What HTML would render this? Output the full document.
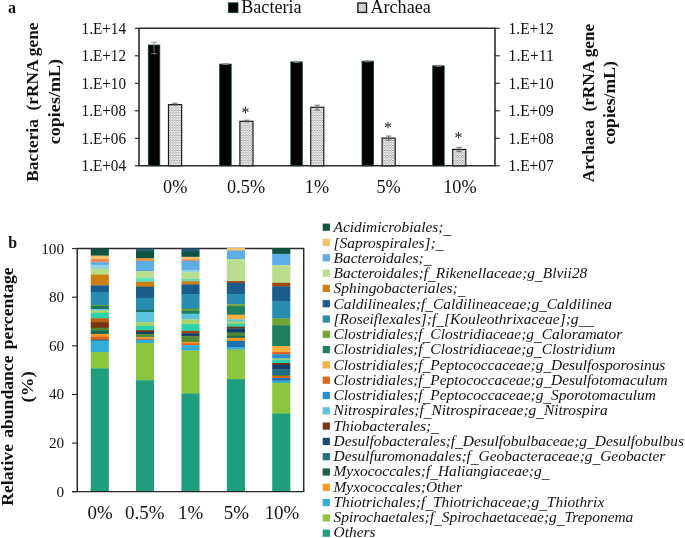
<!DOCTYPE html>
<html lang="en"><head><meta charset="utf-8"><title>Figure</title>
<style>html,body{margin:0;padding:0;background:#fff}svg{display:block;will-change:transform}text{font-family:"Liberation Serif","Times New Roman",serif;fill:#111}.b{font-weight:bold}.i{font-style:italic}</style></head><body>
<svg width="685" height="538" viewBox="0 0 685 538">
<defs><pattern id="dots" width="2.8" height="2.5" patternUnits="userSpaceOnUse"><rect width="2.8" height="2.5" fill="#fff"/><rect x="0.2" y="0.1" width="1.3" height="0.7" fill="#555"/><rect x="1.6" y="1.35" width="1.3" height="0.7" fill="#555"/><rect x="-1.2" y="1.35" width="1.3" height="0.7" fill="#555"/></pattern></defs>
<rect width="685" height="538" fill="#fff"/>
<text class="b" x="8" y="13" font-size="16">a</text>
<rect x="228.3" y="2.8" width="9.7" height="9.9" fill="#000" stroke="#0a4a38" stroke-width="0.8"/>
<text x="241.2" y="12.9" font-size="17.8" textLength="60.4" lengthAdjust="spacingAndGlyphs">Bacteria</text>
<rect x="357.9" y="3.1" width="8.6" height="9.3" fill="url(#dots)" stroke="#1a1a1a" stroke-width="1.4"/>
<text x="370.4" y="12.9" font-size="17.8" textLength="60.4" lengthAdjust="spacingAndGlyphs">Archaea</text>
<path d="M139.0 28.3H495.0V165.8H139.0Z" fill="none" stroke="#2c2c2c" stroke-width="1.6"/>
<path d="M134.8 28.3H139.0" stroke="#222" stroke-width="1.1"/>
<text x="126.0" y="33.5" font-size="15.8" text-anchor="end" textLength="44.4" lengthAdjust="spacingAndGlyphs">1.E+14</text>
<path d="M134.8 55.8H139.0" stroke="#222" stroke-width="1.1"/>
<text x="126.0" y="61.0" font-size="15.8" text-anchor="end" textLength="44.4" lengthAdjust="spacingAndGlyphs">1.E+12</text>
<path d="M134.8 83.3H139.0" stroke="#222" stroke-width="1.1"/>
<text x="126.0" y="88.5" font-size="15.8" text-anchor="end" textLength="44.4" lengthAdjust="spacingAndGlyphs">1.E+10</text>
<path d="M134.8 110.8H139.0" stroke="#222" stroke-width="1.1"/>
<text x="126.0" y="116.0" font-size="15.8" text-anchor="end" textLength="44.4" lengthAdjust="spacingAndGlyphs">1.E+08</text>
<path d="M134.8 138.3H139.0" stroke="#222" stroke-width="1.1"/>
<text x="126.0" y="143.5" font-size="15.8" text-anchor="end" textLength="44.4" lengthAdjust="spacingAndGlyphs">1.E+06</text>
<path d="M134.8 165.8H139.0" stroke="#222" stroke-width="1.1"/>
<text x="126.0" y="171.0" font-size="15.8" text-anchor="end" textLength="44.4" lengthAdjust="spacingAndGlyphs">1.E+04</text>
<path d="M495.0 28.3H499.8" stroke="#222" stroke-width="1.1"/>
<text x="508.6" y="33.5" font-size="15.8" textLength="45.2" lengthAdjust="spacingAndGlyphs">1.E+12</text>
<path d="M495.0 55.8H499.8" stroke="#222" stroke-width="1.1"/>
<text x="508.6" y="61.0" font-size="15.8" textLength="45.2" lengthAdjust="spacingAndGlyphs">1.E+11</text>
<path d="M495.0 83.3H499.8" stroke="#222" stroke-width="1.1"/>
<text x="508.6" y="88.5" font-size="15.8" textLength="45.2" lengthAdjust="spacingAndGlyphs">1.E+10</text>
<path d="M495.0 110.8H499.8" stroke="#222" stroke-width="1.1"/>
<text x="508.6" y="116.0" font-size="15.8" textLength="45.2" lengthAdjust="spacingAndGlyphs">1.E+09</text>
<path d="M495.0 138.3H499.8" stroke="#222" stroke-width="1.1"/>
<text x="508.6" y="143.5" font-size="15.8" textLength="45.2" lengthAdjust="spacingAndGlyphs">1.E+08</text>
<path d="M495.0 165.8H499.8" stroke="#222" stroke-width="1.1"/>
<text x="508.6" y="171.0" font-size="15.8" textLength="45.2" lengthAdjust="spacingAndGlyphs">1.E+07</text>
<rect x="148.3" y="45.0" width="11.5" height="120.8" fill="#000" stroke="#0b4a38" stroke-width="0.8"/>
<rect x="168.5" y="104.6" width="13.1" height="61.2" fill="url(#dots)" stroke="#1c1c1c" stroke-width="1.2"/>
<path d="M154.1 42.3V53.7M151.1 42.3h6M151.1 53.7h6" stroke="#8a8a8a" stroke-width="0.9" fill="none"/>
<path d="M175.0 103.2V105.0M172.2 103.2h5.6M172.2 105.0h5.6" stroke="#555" stroke-width="0.8" fill="none"/>
<rect x="219.7" y="64.1" width="11.5" height="101.7" fill="#000" stroke="#0b4a38" stroke-width="0.8"/>
<rect x="239.9" y="121.3" width="13.1" height="44.5" fill="url(#dots)" stroke="#1c1c1c" stroke-width="1.2"/>
<path d="M225.4 63.6V64.6M222.4 63.6h6M222.4 64.6h6" stroke="#8a8a8a" stroke-width="0.9" fill="none"/>
<path d="M246.4 120.2V121.8M243.6 120.2h5.6M243.6 121.8h5.6" stroke="#555" stroke-width="0.8" fill="none"/>
<text x="245.5" y="118.3" font-size="16" text-anchor="middle">*</text>
<rect x="290.8" y="61.9" width="11.5" height="103.9" fill="#000" stroke="#0b4a38" stroke-width="0.8"/>
<rect x="310.7" y="107.3" width="13.1" height="58.5" fill="url(#dots)" stroke="#1c1c1c" stroke-width="1.2"/>
<path d="M296.6 61.4V62.4M293.6 61.4h6M293.6 62.4h6" stroke="#8a8a8a" stroke-width="0.9" fill="none"/>
<path d="M317.2 105.2V110.0M314.4 105.2h5.6M314.4 110.0h5.6" stroke="#555" stroke-width="0.8" fill="none"/>
<rect x="362.0" y="61.2" width="11.5" height="104.6" fill="#000" stroke="#0b4a38" stroke-width="0.8"/>
<rect x="382.1" y="138.1" width="13.1" height="27.7" fill="url(#dots)" stroke="#1c1c1c" stroke-width="1.2"/>
<path d="M367.8 60.7V61.7M364.8 60.7h6M364.8 61.7h6" stroke="#8a8a8a" stroke-width="0.9" fill="none"/>
<path d="M388.6 136.0V140.2M385.8 136.0h5.6M385.8 140.2h5.6" stroke="#555" stroke-width="0.8" fill="none"/>
<text x="388.1" y="132.8" font-size="16" text-anchor="middle">*</text>
<rect x="432.7" y="65.8" width="11.5" height="100.0" fill="#000" stroke="#0b4a38" stroke-width="0.8"/>
<rect x="452.7" y="149.4" width="13.1" height="16.4" fill="url(#dots)" stroke="#1c1c1c" stroke-width="1.2"/>
<path d="M438.4 65.3V66.3M435.4 65.3h6M435.4 66.3h6" stroke="#8a8a8a" stroke-width="0.9" fill="none"/>
<path d="M459.2 147.3V151.6M456.4 147.3h5.6M456.4 151.6h5.6" stroke="#555" stroke-width="0.8" fill="none"/>
<text x="458.6" y="143.4" font-size="16" text-anchor="middle">*</text>
<text x="175.2" y="192.8" font-size="17.9" text-anchor="middle" textLength="24.3" lengthAdjust="spacingAndGlyphs">0%</text>
<text x="246.1" y="192.8" font-size="17.9" text-anchor="middle" textLength="38.0" lengthAdjust="spacingAndGlyphs">0.5%</text>
<text x="317.0" y="192.8" font-size="17.9" text-anchor="middle" textLength="24.3" lengthAdjust="spacingAndGlyphs">1%</text>
<text x="388.6" y="192.8" font-size="17.9" text-anchor="middle" textLength="24.3" lengthAdjust="spacingAndGlyphs">5%</text>
<text x="459.9" y="192.8" font-size="17.9" text-anchor="middle" textLength="33.4" lengthAdjust="spacingAndGlyphs">10%</text>
<text class="b" transform="translate(38.4 102.1) rotate(-90)" font-size="17.3" text-anchor="middle" textLength="159.2" lengthAdjust="spacingAndGlyphs" xml:space="preserve">Bacteria  (rRNA gene</text>
<text class="b" transform="translate(60.1 101.6) rotate(-90)" font-size="17.4" text-anchor="middle" textLength="85.4" lengthAdjust="spacingAndGlyphs">copies/mL)</text>
<text class="b" transform="translate(593.7 103) rotate(-90)" font-size="17.3" text-anchor="middle" textLength="158.6" lengthAdjust="spacingAndGlyphs" xml:space="preserve">Archaea  (rRNA gene</text>
<text class="b" transform="translate(615.4 102.9) rotate(-90)" font-size="17.4" text-anchor="middle" textLength="83.4" lengthAdjust="spacingAndGlyphs">copies/mL)</text>
<text class="b" x="8.3" y="248" font-size="16">b</text>
<path d="M77.25 491.7V248.6H303.7V491.7" fill="none" stroke="#2c2c2c" stroke-width="1.5"/>
<path d="M72.05 248.6H77.25" stroke="#222" stroke-width="1.1"/>
<text x="64.1" y="253.5" font-size="15.2" text-anchor="end" textLength="22.9" lengthAdjust="spacingAndGlyphs">100</text>
<path d="M72.05 297.2H77.25" stroke="#222" stroke-width="1.1"/>
<text x="64.1" y="302.1" font-size="15.2" text-anchor="end" textLength="15.2" lengthAdjust="spacingAndGlyphs">80</text>
<path d="M72.05 345.8H77.25" stroke="#222" stroke-width="1.1"/>
<text x="64.1" y="350.7" font-size="15.2" text-anchor="end" textLength="15.2" lengthAdjust="spacingAndGlyphs">60</text>
<path d="M72.05 394.5H77.25" stroke="#222" stroke-width="1.1"/>
<text x="64.1" y="399.4" font-size="15.2" text-anchor="end" textLength="15.2" lengthAdjust="spacingAndGlyphs">40</text>
<path d="M72.05 443.1H77.25" stroke="#222" stroke-width="1.1"/>
<text x="64.1" y="448.0" font-size="15.2" text-anchor="end" textLength="15.2" lengthAdjust="spacingAndGlyphs">20</text>
<path d="M72.05 491.7H77.25" stroke="#222" stroke-width="1.1"/>
<text x="64.1" y="496.6" font-size="15.2" text-anchor="end" textLength="7.6" lengthAdjust="spacingAndGlyphs">0</text>
<rect x="90.75" y="248.6" width="18.1" height="7.3" fill="#0f5340"/>
<rect x="90.75" y="255.6" width="18.1" height="3.7" fill="#f5c26b"/>
<rect x="90.75" y="259.0" width="18.1" height="3.5" fill="#ee8a55"/>
<rect x="90.75" y="262.2" width="18.1" height="2.9" fill="#5dade6"/>
<rect x="90.75" y="264.8" width="18.1" height="4.2" fill="#8fd3e8"/>
<rect x="90.75" y="268.7" width="18.1" height="6.2" fill="#b9dd8c"/>
<rect x="90.75" y="274.6" width="18.1" height="11.1" fill="#cd8010"/>
<rect x="90.75" y="285.4" width="18.1" height="6.8" fill="#1a5c8c"/>
<rect x="90.75" y="291.9" width="18.1" height="13.4" fill="#288bb0"/>
<rect x="90.75" y="305.0" width="18.1" height="1.2" fill="#72a535"/>
<rect x="90.75" y="305.9" width="18.1" height="3.3" fill="#187358"/>
<rect x="90.75" y="308.9" width="18.1" height="1.8" fill="#5bc3de"/>
<rect x="90.75" y="310.4" width="18.1" height="2.7" fill="#a8d468"/>
<rect x="90.75" y="312.8" width="18.1" height="5.7" fill="#2bd4ae"/>
<rect x="90.75" y="318.2" width="18.1" height="4.2" fill="#b8620f"/>
<rect x="90.75" y="322.1" width="18.1" height="5.9" fill="#7a3412"/>
<rect x="90.75" y="327.7" width="18.1" height="2.8" fill="#4f8a30"/>
<rect x="90.75" y="330.2" width="18.1" height="4.0" fill="#156a58"/>
<rect x="90.75" y="333.9" width="18.1" height="2.9" fill="#f59a1e"/>
<rect x="90.75" y="336.5" width="18.1" height="3.5" fill="#d9651e"/>
<rect x="90.75" y="339.7" width="18.1" height="1.2" fill="#1a5c8c"/>
<rect x="90.75" y="340.6" width="18.1" height="11.8" fill="#32acd8"/>
<rect x="90.75" y="352.1" width="18.1" height="16.6" fill="#8cc63f"/>
<rect x="90.75" y="368.4" width="18.1" height="123.3" fill="#1f9e7d"/>
<rect x="136.0" y="248.6" width="18.1" height="2.2" fill="#1d5c7a"/>
<rect x="136.0" y="250.5" width="18.1" height="8.1" fill="#0f5340"/>
<rect x="136.0" y="258.3" width="18.1" height="2.9" fill="#ef9440"/>
<rect x="136.0" y="260.9" width="18.1" height="10.5" fill="#5dade6"/>
<rect x="136.0" y="271.1" width="18.1" height="7.1" fill="#b9dd8c"/>
<rect x="136.0" y="277.9" width="18.1" height="4.2" fill="#5fe0c0"/>
<rect x="136.0" y="281.8" width="18.1" height="5.2" fill="#cd8010"/>
<rect x="136.0" y="286.7" width="18.1" height="11.4" fill="#1a5c8c"/>
<rect x="136.0" y="297.8" width="18.1" height="12.4" fill="#288bb0"/>
<rect x="136.0" y="309.9" width="18.1" height="2.5" fill="#187358"/>
<rect x="136.0" y="312.1" width="18.1" height="10.3" fill="#5bc3de"/>
<rect x="136.0" y="322.1" width="18.1" height="4.0" fill="#a8d468"/>
<rect x="136.0" y="325.8" width="18.1" height="4.7" fill="#2bd4ae"/>
<rect x="136.0" y="330.2" width="18.1" height="2.0" fill="#7a3412"/>
<rect x="136.0" y="331.9" width="18.1" height="2.5" fill="#123f6c"/>
<rect x="136.0" y="334.1" width="18.1" height="2.7" fill="#4f8a30"/>
<rect x="136.0" y="336.5" width="18.1" height="0.9" fill="#156a58"/>
<rect x="136.0" y="337.1" width="18.1" height="1.6" fill="#f59a1e"/>
<rect x="136.0" y="338.4" width="18.1" height="1.6" fill="#d9651e"/>
<rect x="136.0" y="339.7" width="18.1" height="3.6" fill="#32acd8"/>
<rect x="136.0" y="343.0" width="18.1" height="37.5" fill="#8cc63f"/>
<rect x="136.0" y="380.2" width="18.1" height="111.5" fill="#1f9e7d"/>
<rect x="181.45" y="248.6" width="18.1" height="3.5" fill="#1d5c7a"/>
<rect x="181.45" y="251.8" width="18.1" height="5.3" fill="#0f5340"/>
<rect x="181.45" y="256.8" width="18.1" height="2.9" fill="#f5c26b"/>
<rect x="181.45" y="259.4" width="18.1" height="1.8" fill="#ee8a55"/>
<rect x="181.45" y="260.9" width="18.1" height="9.2" fill="#5dade6"/>
<rect x="181.45" y="269.8" width="18.1" height="2.9" fill="#8fd3e8"/>
<rect x="181.45" y="272.4" width="18.1" height="6.8" fill="#b9dd8c"/>
<rect x="181.45" y="278.9" width="18.1" height="2.5" fill="#5fe0c0"/>
<rect x="181.45" y="281.1" width="18.1" height="3.6" fill="#cd8010"/>
<rect x="181.45" y="284.4" width="18.1" height="10.0" fill="#1a5c8c"/>
<rect x="181.45" y="294.1" width="18.1" height="15.0" fill="#288bb0"/>
<rect x="181.45" y="308.8" width="18.1" height="2.2" fill="#72a535"/>
<rect x="181.45" y="310.7" width="18.1" height="3.3" fill="#1e8060"/>
<rect x="181.45" y="313.7" width="18.1" height="5.9" fill="#5bc3de"/>
<rect x="181.45" y="319.3" width="18.1" height="5.1" fill="#a8d468"/>
<rect x="181.45" y="324.1" width="18.1" height="7.1" fill="#2bd4ae"/>
<rect x="181.45" y="330.9" width="18.1" height="2.6" fill="#a84510"/>
<rect x="181.45" y="333.2" width="18.1" height="3.3" fill="#123f6c"/>
<rect x="181.45" y="336.2" width="18.1" height="6.0" fill="#4f8a30"/>
<rect x="181.45" y="341.9" width="18.1" height="1.6" fill="#f59a1e"/>
<rect x="181.45" y="343.2" width="18.1" height="2.3" fill="#d9651e"/>
<rect x="181.45" y="345.2" width="18.1" height="5.6" fill="#32acd8"/>
<rect x="181.45" y="350.5" width="18.1" height="43.3" fill="#8cc63f"/>
<rect x="181.45" y="393.5" width="18.1" height="98.2" fill="#1f9e7d"/>
<rect x="226.85" y="247.9" width="18.1" height="2.9" fill="#f5c26b"/>
<rect x="226.85" y="250.5" width="18.1" height="8.8" fill="#5dade6"/>
<rect x="226.85" y="259.0" width="18.1" height="22.4" fill="#b9dd8c"/>
<rect x="226.85" y="281.1" width="18.1" height="2.0" fill="#a84510"/>
<rect x="226.85" y="282.8" width="18.1" height="11.6" fill="#1a5c8c"/>
<rect x="226.85" y="294.1" width="18.1" height="10.4" fill="#288bb0"/>
<rect x="226.85" y="304.2" width="18.1" height="2.2" fill="#72a535"/>
<rect x="226.85" y="306.1" width="18.1" height="8.9" fill="#1e8060"/>
<rect x="226.85" y="314.7" width="18.1" height="4.9" fill="#f5b040"/>
<rect x="226.85" y="319.3" width="18.1" height="2.5" fill="#5bc3de"/>
<rect x="226.85" y="321.5" width="18.1" height="2.6" fill="#a8d468"/>
<rect x="226.85" y="323.8" width="18.1" height="3.2" fill="#2bd4ae"/>
<rect x="226.85" y="326.7" width="18.1" height="2.0" fill="#7a3412"/>
<rect x="226.85" y="328.4" width="18.1" height="4.5" fill="#123f6c"/>
<rect x="226.85" y="332.6" width="18.1" height="3.5" fill="#4f8a30"/>
<rect x="226.85" y="335.8" width="18.1" height="2.3" fill="#156a58"/>
<rect x="226.85" y="337.8" width="18.1" height="3.3" fill="#f59a1e"/>
<rect x="226.85" y="340.8" width="18.1" height="6.6" fill="#1f70b0"/>
<rect x="226.85" y="347.1" width="18.1" height="2.7" fill="#32acd8"/>
<rect x="226.85" y="349.5" width="18.1" height="29.9" fill="#8cc63f"/>
<rect x="226.85" y="379.1" width="18.1" height="112.6" fill="#1f9e7d"/>
<rect x="272.2" y="248.2" width="18.1" height="5.9" fill="#0f5340"/>
<rect x="272.2" y="253.8" width="18.1" height="11.7" fill="#5dade6"/>
<rect x="272.2" y="265.2" width="18.1" height="17.9" fill="#b9dd8c"/>
<rect x="272.2" y="282.8" width="18.1" height="3.8" fill="#a84510"/>
<rect x="272.2" y="286.3" width="18.1" height="14.9" fill="#1a5c8c"/>
<rect x="272.2" y="300.9" width="18.1" height="17.8" fill="#288bb0"/>
<rect x="272.2" y="318.4" width="18.1" height="7.1" fill="#72a535"/>
<rect x="272.2" y="325.2" width="18.1" height="21.1" fill="#1e8060"/>
<rect x="272.2" y="346.0" width="18.1" height="6.3" fill="#f5b040"/>
<rect x="272.2" y="352.0" width="18.1" height="2.6" fill="#d9651e"/>
<rect x="272.2" y="354.3" width="18.1" height="4.5" fill="#2a8fd0"/>
<rect x="272.2" y="358.5" width="18.1" height="1.6" fill="#a8d468"/>
<rect x="272.2" y="359.8" width="18.1" height="3.5" fill="#2bd4ae"/>
<rect x="272.2" y="363.0" width="18.1" height="2.0" fill="#7a3412"/>
<rect x="272.2" y="364.7" width="18.1" height="4.9" fill="#123f6c"/>
<rect x="272.2" y="369.3" width="18.1" height="6.0" fill="#1f6e88"/>
<rect x="272.2" y="375.0" width="18.1" height="1.3" fill="#4f8a30"/>
<rect x="272.2" y="376.0" width="18.1" height="2.3" fill="#d9651e"/>
<rect x="272.2" y="378.0" width="18.1" height="2.9" fill="#1f70b0"/>
<rect x="272.2" y="380.6" width="18.1" height="2.5" fill="#32acd8"/>
<rect x="272.2" y="382.8" width="18.1" height="31.0" fill="#8cc63f"/>
<rect x="272.2" y="413.5" width="18.1" height="78.2" fill="#1f9e7d"/>
<path d="M72.05 491.7H304.3" stroke="#262626" stroke-width="1.3"/>
<text x="100.15" y="519.0" font-size="18.2" text-anchor="middle" textLength="25.2" lengthAdjust="spacingAndGlyphs">0%</text>
<text x="144.8" y="519.0" font-size="18.2" text-anchor="middle" textLength="39.4" lengthAdjust="spacingAndGlyphs">0.5%</text>
<text x="190.6" y="519.0" font-size="18.2" text-anchor="middle" textLength="25.2" lengthAdjust="spacingAndGlyphs">1%</text>
<text x="236.45" y="519.0" font-size="18.2" text-anchor="middle" textLength="25.2" lengthAdjust="spacingAndGlyphs">5%</text>
<text x="282.0" y="519.0" font-size="18.2" text-anchor="middle" textLength="34.7" lengthAdjust="spacingAndGlyphs">10%</text>
<text class="b" transform="translate(12.7 386.55) rotate(-90)" font-size="17.5" text-anchor="middle" textLength="238.4" lengthAdjust="spacingAndGlyphs" style="word-spacing:1.8px">Relative abundance percentage</text>
<text class="b" transform="translate(33 386.8) rotate(-90)" font-size="17.5" text-anchor="middle" textLength="31.2" lengthAdjust="spacingAndGlyphs">(%)</text>
<rect x="322.7" y="223.6" width="7.2" height="7.2" fill="#0f5340"/>
<text class="i" x="333.5" y="232.2" font-size="15.43">Acidimicrobiales;<tspan dy="1.6">_</tspan></text>
<rect x="322.7" y="238.9" width="7.2" height="7.2" fill="#f5c26b"/>
<text class="i" x="333.5" y="247.5" font-size="15.43">[Saprospirales];<tspan dy="1.6">_</tspan></text>
<rect x="322.7" y="254.2" width="7.2" height="7.2" fill="#5dade6"/>
<text class="i" x="333.5" y="262.7" font-size="15.43">Bacteroidales;<tspan dy="1.6">_</tspan></text>
<rect x="322.7" y="269.5" width="7.2" height="7.2" fill="#b9dd8c"/>
<text class="i" x="333.5" y="278.0" font-size="15.43">Bacteroidales;f<tspan dy="1.6">_</tspan><tspan dy="-1.6">Rikenellaceae;g</tspan><tspan dy="1.6">_</tspan><tspan dy="-1.6">Blvii28</tspan></text>
<rect x="322.7" y="284.8" width="7.2" height="7.2" fill="#cd8010"/>
<text class="i" x="333.5" y="293.2" font-size="15.43">Sphingobacteriales;<tspan dy="1.6">_</tspan></text>
<rect x="322.7" y="300.1" width="7.2" height="7.2" fill="#1a5c8c"/>
<text class="i" x="333.5" y="308.5" font-size="15.43">Caldilineales;f<tspan dy="1.6">_</tspan><tspan dy="-1.6">Caldilineaceae;g</tspan><tspan dy="1.6">_</tspan><tspan dy="-1.6">Caldilinea</tspan></text>
<rect x="322.7" y="315.4" width="7.2" height="7.2" fill="#288bb0"/>
<text class="i" x="333.5" y="323.8" font-size="15.43">[Roseiflexales];f<tspan dy="1.6">_</tspan><tspan dy="-1.6">[Kouleothrixaceae];g</tspan><tspan dy="1.6">__</tspan></text>
<rect x="322.7" y="330.7" width="7.2" height="7.2" fill="#72a535"/>
<text class="i" x="333.5" y="339.0" font-size="15.43">Clostridiales;f<tspan dy="1.6">_</tspan><tspan dy="-1.6">Clostridiaceae;g</tspan><tspan dy="1.6">_</tspan><tspan dy="-1.6">Caloramator</tspan></text>
<rect x="322.7" y="346.0" width="7.2" height="7.2" fill="#1e8060"/>
<text class="i" x="333.5" y="354.3" font-size="15.43">Clostridiales;f<tspan dy="1.6">_</tspan><tspan dy="-1.6">Clostridiaceae;g</tspan><tspan dy="1.6">_</tspan><tspan dy="-1.6">Clostridium</tspan></text>
<rect x="322.7" y="361.3" width="7.2" height="7.2" fill="#f5b040"/>
<text class="i" x="333.5" y="369.5" font-size="15.43">Clostridiales;f<tspan dy="1.6">_</tspan><tspan dy="-1.6">Peptococcaceae;g</tspan><tspan dy="1.6">_</tspan><tspan dy="-1.6">Desulfosporosinus</tspan></text>
<rect x="322.7" y="376.6" width="7.2" height="7.2" fill="#d9651e"/>
<text class="i" x="333.5" y="384.8" font-size="15.43">Clostridiales;f<tspan dy="1.6">_</tspan><tspan dy="-1.6">Peptococcaceae;g</tspan><tspan dy="1.6">_</tspan><tspan dy="-1.6">Desulfotomaculum</tspan></text>
<rect x="322.7" y="391.9" width="7.2" height="7.2" fill="#2a8fd0"/>
<text class="i" x="333.5" y="400.1" font-size="15.43">Clostridiales;f<tspan dy="1.6">_</tspan><tspan dy="-1.6">Peptococcaceae;g</tspan><tspan dy="1.6">_</tspan><tspan dy="-1.6">Sporotomaculum</tspan></text>
<rect x="322.7" y="407.2" width="7.2" height="7.2" fill="#5bc3de"/>
<text class="i" x="333.5" y="415.3" font-size="15.43">Nitrospirales;f<tspan dy="1.6">_</tspan><tspan dy="-1.6">Nitrospiraceae;g</tspan><tspan dy="1.6">_</tspan><tspan dy="-1.6">Nitrospira</tspan></text>
<rect x="322.7" y="422.5" width="7.2" height="7.2" fill="#7a3412"/>
<text class="i" x="333.5" y="430.6" font-size="15.43">Thiobacterales;<tspan dy="1.6">_</tspan></text>
<rect x="322.7" y="437.8" width="7.2" height="7.2" fill="#164a70"/>
<text class="i" x="333.5" y="445.8" font-size="15.43">Desulfobacterales;f<tspan dy="1.6">_</tspan><tspan dy="-1.6">Desulfobulbaceae;g</tspan><tspan dy="1.6">_</tspan><tspan dy="-1.6">Desulfobulbus</tspan></text>
<rect x="322.7" y="453.1" width="7.2" height="7.2" fill="#1f6e88"/>
<text class="i" x="333.5" y="461.1" font-size="15.43">Desulfuromonadales;f<tspan dy="1.6">_</tspan><tspan dy="-1.6">Geobacteraceae;g</tspan><tspan dy="1.6">_</tspan><tspan dy="-1.6">Geobacter</tspan></text>
<rect x="322.7" y="468.4" width="7.2" height="7.2" fill="#14604a"/>
<text class="i" x="333.5" y="476.4" font-size="15.43">Myxococcales;f<tspan dy="1.6">_</tspan><tspan dy="-1.6">Haliangiaceae;g</tspan><tspan dy="1.6">_</tspan></text>
<rect x="322.7" y="483.7" width="7.2" height="7.2" fill="#f59a1e"/>
<text class="i" x="333.5" y="491.6" font-size="15.43">Myxococcales;Other</text>
<rect x="322.7" y="499.0" width="7.2" height="7.2" fill="#32acd8"/>
<text class="i" x="333.5" y="506.9" font-size="15.43">Thiotrichales;f<tspan dy="1.6">_</tspan><tspan dy="-1.6">Thiotrichaceae;g</tspan><tspan dy="1.6">_</tspan><tspan dy="-1.6">Thiothrix</tspan></text>
<rect x="322.7" y="514.3" width="7.2" height="7.2" fill="#8cc63f"/>
<text class="i" x="333.5" y="522.1" font-size="15.43">Spirochaetales;f<tspan dy="1.6">_</tspan><tspan dy="-1.6">Spirochaetaceae;g</tspan><tspan dy="1.6">_</tspan><tspan dy="-1.6">Treponema</tspan></text>
<rect x="322.7" y="529.6" width="7.2" height="7.2" fill="#1f9e7d"/>
<text class="i" x="333.5" y="537.4" font-size="15.43">Others</text>
</svg></body></html>
